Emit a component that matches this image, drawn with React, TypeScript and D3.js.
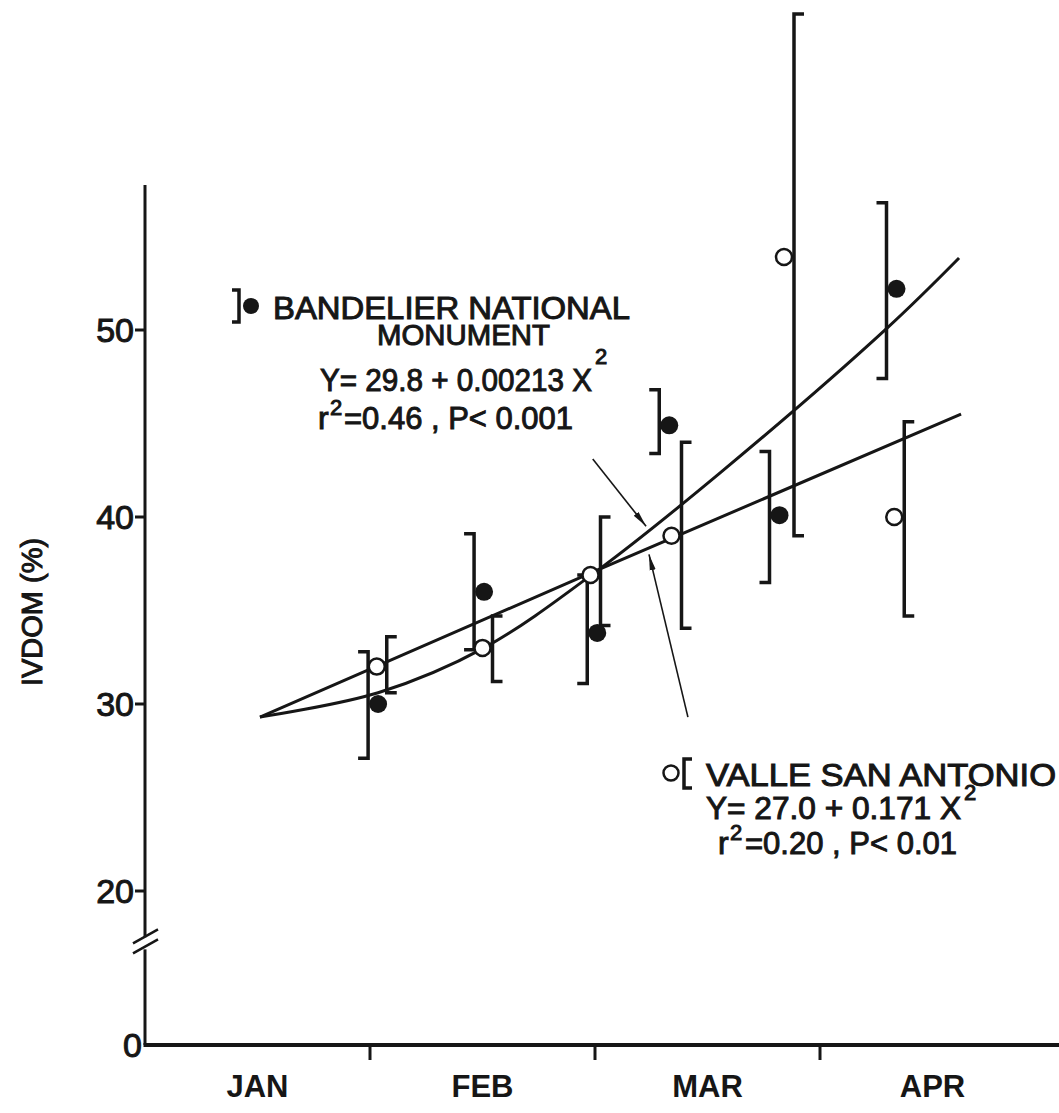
import React from 'react';
import * as d3 from 'd3';

// ---- data ----
const monthLabels = ['JAN', 'FEB', 'MAR', 'APR'];
const monthTicks = [1, 2, 3];
const yTicks = [20, 30, 40, 50];

// Bandelier National Monument (filled circles), x in months since Jan 1
const bandMonth = [1.036, 1.507, 2.01, 2.33, 2.82, 3.34];
const bandMean = [30.0, 36.0, 33.8, 44.9, 40.1, 52.2];
const bandLow = [27.1, 32.9, 31.1, 43.4, 36.5, 47.4];
const bandHigh = [32.8, 39.1, 36.9, 46.8, 43.5, 56.8];

// Valle San Antonio (open circles)
const valleMonth = [1.03, 1.5, 1.98, 2.34, 2.84, 3.33];
const valleMean = [32.0, 33.0, 36.9, 39.0, 53.9, 40.0];
const valleLow = [30.6, 31.2, 34.2, 34.05, 39.0, 34.7];
const valleHigh = [33.6, 34.7, 40.0, 44.0, 66.9, 45.1];

// fitted regression curves, sampled from the figure
const bandCurveMonth = [0.511, 1.036, 1.507, 2.018, 2.56, 3.298, 3.618];
const bandCurveValue = [29.3, 30.6, 33.0, 37.2, 42.4, 50.1, 53.85];
const valleCurveMonth = [0.511, 2.018, 3.627];
const valleCurveValue = [29.3, 37.2, 45.5];

// annotation arrows: [tailMonth, tailValue, tipMonth, tipValue]
const arrows = [
  [1.99, 43.1, 2.227, 39.5],
  [2.413, 29.3, 2.24, 38.0],
];

const W = 1059;
const H = 1113;
const INK = '#161616';
const FONT = '"Liberation Sans", Arial, sans-serif';

export default function App() {
  const x = d3.scaleLinear().domain([0, 4]).range([145, 1045]);
  const y = d3.scaleLinear().domain([0, 20, 50]).range([1045, 891, 330]);
  const x0 = x(0);
  const yBase = y(0);
  const yTop = y(57.75);
  const breakY = y(13.2);

  const line = d3
    .line<[number, number]>()
    .x((d) => x(d[0]))
    .y((d) => y(d[1]))
    .curve(d3.curveCatmullRom.alpha(0.5));
  const bandPts = bandCurveMonth.map((m, i) => [m, bandCurveValue[i]] as [number, number]);
  const vallePts = valleCurveMonth.map((m, i) => [m, valleCurveValue[i]] as [number, number]);
  const lineNat = d3
    .line<[number, number]>()
    .x((d) => x(d[0]))
    .y((d) => y(d[1]))
    .curve(d3.curveNatural);

  const textStyle = { fontFamily: FONT, fill: INK, stroke: INK, strokeWidth: 1.0 } as any;

  return (
    <svg
      width={W}
      height={H}
      viewBox={`0 0 ${W} ${H}`}
      style={{ position: 'absolute', left: 0, top: 0, background: '#fff' }}
    >
      <rect x={0} y={0} width={W} height={H} fill="#fff" />
      <defs>
        <marker id="ah" viewBox="0 0 16 8" refX={16} refY={4} markerWidth={16} markerHeight={8} markerUnits="userSpaceOnUse" orient="auto">
          <path d="M0,1 L16,4 L0,7 Z" fill={INK} />
        </marker>
      </defs>

      {/* y axis with break */}
      <line x1={x0} x2={x0} y1={yTop} y2={breakY - 6} stroke={INK} strokeWidth={3} />
      <line x1={x0} x2={x0} y1={breakY + 6} y2={yBase} stroke={INK} strokeWidth={3} />
      <line x1={x0 - 12} x2={x0 + 13} y1={breakY - 0} y2={breakY - 14} stroke={INK} strokeWidth={2.5} />
      <line x1={x0 - 12} x2={x0 + 13} y1={breakY + 10} y2={breakY - 4} stroke={INK} strokeWidth={2.5} />

      {/* y ticks */}
      {yTicks.map((t) => (
        <g key={t}>
          <line x1={x0 - 10} x2={x0} y1={y(t)} y2={y(t)} stroke={INK} strokeWidth={3} />
          <text x={x0 - 11} y={y(t)} dy="0.36em" textAnchor="end" fontSize={34} style={textStyle}>
            {t}
          </text>
        </g>
      ))}
      <text x={x0 - 3} y={yBase} dy="0.36em" textAnchor="end" fontSize={34} style={textStyle}>
        0
      </text>

      {/* x axis */}
      <line x1={x0 - 1.5} x2={W} y1={yBase} y2={yBase} stroke={INK} strokeWidth={4} />
      {monthTicks.map((m) => (
        <line key={m} x1={x(m)} x2={x(m)} y1={yBase} y2={yBase + 15} stroke={INK} strokeWidth={3} />
      ))}
      {monthLabels.map((lab, i) => (
        <text
          key={lab}
          x={x(i + 0.5)}
          y={1097}
          textAnchor="middle"
          fontSize={31}
          fontWeight="bold"
          style={{ fontFamily: FONT, fill: INK }}
        >
          {lab}
        </text>
      ))}

      {/* y axis title */}
      <text transform={`translate(42, 612) rotate(-90)`} textAnchor="middle" fontSize={29} style={textStyle}>
        IVDOM (%)
      </text>

      {/* regression curves */}
      <path d={line(bandPts) || ''} fill="none" stroke={INK} strokeWidth={3} />
      <path d={lineNat(vallePts) || ''} fill="none" stroke={INK} strokeWidth={3} />

      {/* error brackets */}
      {bandMonth.map((m, i) => {
        const bx = x(m) - 10;
        return (
          <path
            key={'bb' + i}
            d={`M${bx - 10},${y(bandHigh[i])}H${bx}V${y(bandLow[i])}H${bx - 10}`}
            fill="none"
            stroke={INK}
            strokeWidth={3.5}
          />
        );
      })}
      {valleMonth.map((m, i) => {
        const bx = x(m) + 10;
        return (
          <path
            key={'vb' + i}
            d={`M${bx + 10},${y(valleHigh[i])}H${bx}V${y(valleLow[i])}H${bx + 10}`}
            fill="none"
            stroke={INK}
            strokeWidth={3.5}
          />
        );
      })}

      {/* points */}
      {bandMonth.map((m, i) => (
        <circle key={'bp' + i} cx={x(m)} cy={y(bandMean[i])} r={9} fill={INK} />
      ))}
      {valleMonth.map((m, i) => (
        <circle key={'vp' + i} cx={x(m)} cy={y(valleMean[i])} r={8} fill="#fff" stroke={INK} strokeWidth={2.5} />
      ))}

      {/* arrows */}
      {arrows.map((a, i) => (
        <line
          key={'ar' + i}
          x1={x(a[0])}
          y1={y(a[1])}
          x2={x(a[2])}
          y2={y(a[3])}
          stroke={INK}
          strokeWidth={1.6}
          markerEnd="url(#ah)"
        />
      ))}

      {/* legend: Bandelier */}
      <path d="M232,290H239V322H232" fill="none" stroke={INK} strokeWidth={3.5} />
      <circle cx={251} cy={306} r={8} fill={INK} />
      <text x={273} y={319} fontSize={31} textLength={357} lengthAdjust="spacingAndGlyphs" style={textStyle}>
        BANDELIER NATIONAL
      </text>
      <text x={377} y={345} fontSize={30} textLength={173} lengthAdjust="spacingAndGlyphs" style={textStyle}>
        MONUMENT
      </text>
      <text x={320} y={391} fontSize={32} style={textStyle}>
        <tspan textLength={272} lengthAdjust="spacingAndGlyphs">Y= 29.8 + 0.00213 X</tspan>
        <tspan x={595} y={364} fontSize={22}>2</tspan>
      </text>
      <text x={318} y={429} fontSize={32} style={textStyle}>
        <tspan>r</tspan>
        <tspan x={330} y={415} fontSize={22}>2</tspan>
        <tspan x={344} y={429} textLength={229} lengthAdjust="spacingAndGlyphs">=0.46 , P&lt; 0.001</tspan>
      </text>

      {/* legend: Valle San Antonio */}
      <circle cx={671} cy={773} r={7.5} fill="#fff" stroke={INK} strokeWidth={2.5} />
      <path d="M692,759H684V788H692" fill="none" stroke={INK} strokeWidth={3.5} />
      <text x={706} y={786} fontSize={31} textLength={350} lengthAdjust="spacingAndGlyphs" style={textStyle}>
        VALLE SAN ANTONIO
      </text>
      <text x={706} y={819} fontSize={31} style={textStyle}>
        <tspan textLength={255} lengthAdjust="spacingAndGlyphs">Y= 27.0 + 0.171 X</tspan>
        <tspan x={964} y={800} fontSize={22}>2</tspan>
      </text>
      <text x={718} y={854} fontSize={32} style={textStyle}>
        <tspan>r</tspan>
        <tspan x={730} y={840} fontSize={22}>2</tspan>
        <tspan x={745} y={854} textLength={212} lengthAdjust="spacingAndGlyphs">=0.20 , P&lt; 0.01</tspan>
      </text>
    </svg>
  );
}
